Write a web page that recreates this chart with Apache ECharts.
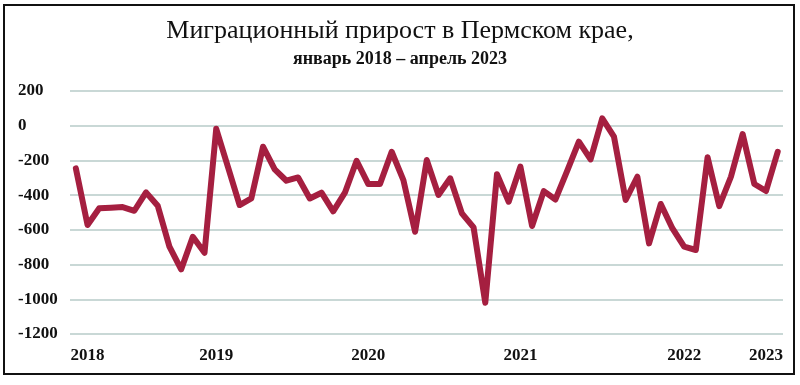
<!DOCTYPE html>
<html>
<head>
<meta charset="utf-8">
<script src="https://cdn.jsdelivr.net/npm/echarts@6/dist/echarts.min.js"></script>
<style>
html,body{margin:0;padding:0;background:#fff;}
#chart{width:800px;height:385px;}
</style>
</head>
<body>
<div id="chart"></div>
<script>
const titleText = 'Миграционный прирост в Пермском крае,';
const subtitleText = 'январь 2018 – апрель 2023';
const values = [
  -246, -572, -476, -472, -469, -490, -384, -461, -697, -828, -640, -732,
  -18, -237, -457, -419, -121, -252, -317, -298, -419, -386, -493, -386,
  -202, -336, -336, -150, -313, -611, -198, -399, -303, -505, -586, -1020,
  -279, -438, -236, -578, -377, -425, -260, -92, -194, 42, -63, -428,
  -294, -678, -451, -592, -697, -716, -182, -463, -294, -48, -336, -376,
  -150
];
const yearLabels = ['2018', '2019', '2020', '2021', '2022', '2023'];
const yearLabelIndex = [1, 12, 25, 38, 52, 59];

const seriesData = values.map((v, i) => [i, v]);
const fontFam = '"Liberation Serif", "DejaVu Serif", serif';

const chart = echarts.init(document.getElementById('chart'));
chart.setOption({
  backgroundColor: '#fff',
  animation: false,
  title: {
    text: titleText,
    subtext: subtitleText,
    left: 'center',
    top: 13,
    itemGap: 6,
    textStyle: { fontFamily: fontFam, fontSize: 26, fontWeight: 'normal', color: '#111' },
    subtextStyle: { fontFamily: fontFam, fontSize: 18, fontWeight: 'bold', color: '#111' }
  },
  graphic: [{
    type: 'rect',
    shape: { x: 4, y: 5, width: 790, height: 369 },
    style: { fill: 'none', stroke: '#111', lineWidth: 2 },
    silent: true
  }],
  grid: { left: 70, right: 17, top: 91, bottom: 51 },
  xAxis: {
    type: 'value',
    min: -0.5,
    max: 60.45,
    splitLine: { show: false },
    axisLine: { show: false },
    axisTick: { show: false },
    axisLabel: {
      customValues: yearLabelIndex,
      formatter: function (v) {
        const k = yearLabelIndex.indexOf(Math.round(v));
        return k >= 0 ? yearLabels[k] : '';
      },
      margin: 13,
      fontFamily: fontFam,
      fontSize: 17,
      fontWeight: 'bold',
      color: '#111'
    }
  },
  yAxis: {
    type: 'value',
    min: -1200,
    max: 200,
    interval: 200,
    axisLine: { show: false },
    axisTick: { show: false },
    splitLine: { lineStyle: { color: '#c9d8d6', width: 2 } },
    axisLabel: {
      align: 'left',
      margin: 52,
      formatter: function (v) { return String(v); },
      fontFamily: fontFam,
      fontSize: 17,
      fontWeight: 'bold',
      color: '#111'
    }
  },
  series: [{
    type: 'line',
    data: seriesData,
    showSymbol: false,
    lineStyle: { color: '#a51f40', width: 6, join: 'round', cap: 'round' },
    z: 3
  }]
});
</script>
</body>
</html>
